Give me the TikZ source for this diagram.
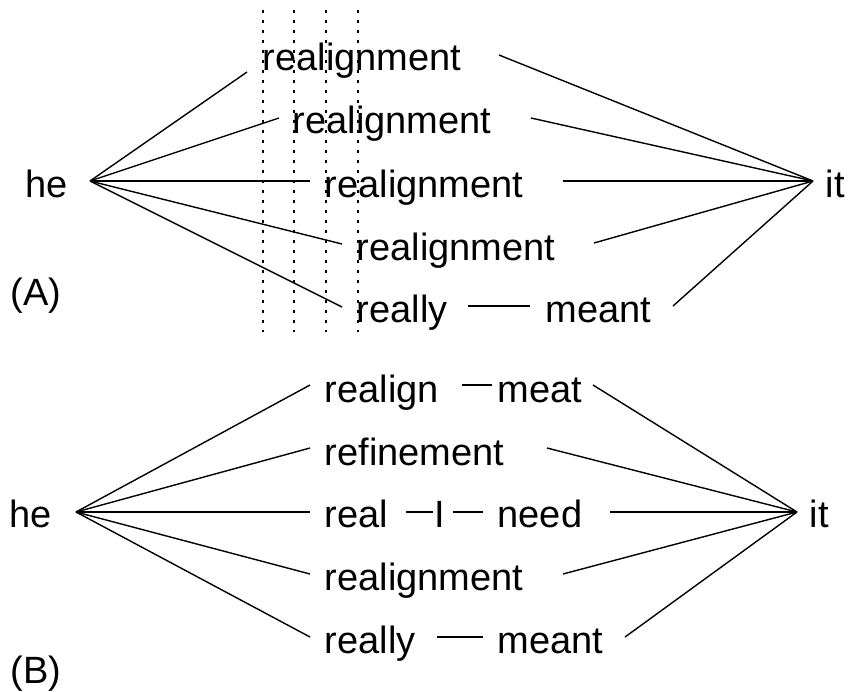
\documentclass[tikz,border=0pt]{standalone}
\usepackage{fontspec}
\setmainfont{Liberation Sans}
\begin{document}
\begin{tikzpicture}[x=1pt,y=-1pt,
  word/.style={anchor=base west, inner sep=0pt, font=\fontsize{38}{45}\selectfont},
  link/.style={line width=1.4pt},
  guide/.style={line width=1.2pt, dash pattern=on 2.5pt off 7.5pt}]
\useasboundingbox (0,0) rectangle (851,691);

% ---------------- (A) ----------------
\node[word] (labA) at (10.5,305) {(A)};
\node[word] (heA)  at (25.5,197) {he};
\node[word] (itA)  at (825.5,197) {it};
\node[word] (a1) at (262.5,70)  {realignment};
\node[word] (a2) at (292.5,133) {realignment};
\node[word] (a3) at (324.5,197) {realignment};
\node[word] (a4) at (356.5,260) {realignment};
\node[word] (a5) at (356.5,322) {really};
\node[word] (a6) at (545.5,322) {meant};

\coordinate (hubAl) at (90,181);
\coordinate (hubAr) at (813,181);
\coordinate (a1l) at (247,72);  \coordinate (a1r) at (499,55);
\coordinate (a2l) at (279,118); \coordinate (a2r) at (531,118);
\coordinate (a3l) at (310,181); \coordinate (a3r) at (563,181);
\coordinate (a4l) at (342,244); \coordinate (a4r) at (594,243);
\coordinate (a5l) at (342,307); \coordinate (a6r) at (673,306);
\coordinate (a5e) at (468,306); \coordinate (a6s) at (530,306);

\foreach \p in {a1l,a2l,a3l,a4l,a5l} \draw[link] (hubAl) -- (\p);
\foreach \p in {a1r,a2r,a3r,a4r,a6r} \draw[link] (\p) -- (hubAr);
\draw[link] (a5e) -- (a6s);

% dotted alignment guides
\foreach \x/\n in {263/g1,294/g2,326/g3,358/g4} {
  \coordinate (\n t) at (\x,10);
  \coordinate (\n b) at (\x,332);
  \draw[guide] (\n t) -- (\n b);
}

% ---------------- (B) ----------------
\node[word] (labB) at (10.5,683) {(B)};
\node[word] (heB)  at (9.5,527) {he};
\node[word] (itB)  at (809.5,527) {it};
\node[word] (b1)  at (324.5,402) {realign};
\node[word] (b1m) at (497.5,402) {meat};
\node[word] (b2)  at (324.5,465) {refinement};
\node[word] (b3)  at (324.5,527) {real};
\node[word] (b3i) at (434.5,527) {I};
\node[word] (b3n) at (497.5,527) {need};
\node[word] (b4)  at (324.5,590) {realignment};
\node[word] (b5)  at (324.5,653) {really};
\node[word] (b5m) at (497.5,653) {meant};

\coordinate (hubBl) at (76,512);
\coordinate (hubBr) at (797,512);
\coordinate (b1l) at (310,385); \coordinate (b1r) at (593,385);
\coordinate (b2l) at (310,448); \coordinate (b2r) at (547,448);
\coordinate (b3l) at (310,512); \coordinate (b3r) at (610,512);
\coordinate (b4l) at (310,574); \coordinate (b4r) at (563,574);
\coordinate (b5l) at (310,637); \coordinate (b5r) at (625,637);

\foreach \p in {b1l,b2l,b3l,b4l,b5l} \draw[link] (hubBl) -- (\p);
\foreach \p in {b1r,b2r,b3r,b4r,b5r} \draw[link] (\p) -- (hubBr);

% short joins between words on one path
\coordinate (j1a) at (462,385); \coordinate (j1b) at (492,385);
\coordinate (j2a) at (406,512); \coordinate (j2b) at (433,512);
\coordinate (j3a) at (453,512); \coordinate (j3b) at (483,512);
\coordinate (j4a) at (437,637); \coordinate (j4b) at (483,637);
\draw[link] (j1a) -- (j1b);
\draw[link] (j2a) -- (j2b);
\draw[link] (j3a) -- (j3b);
\draw[link] (j4a) -- (j4b);
\end{tikzpicture}
\end{document}
